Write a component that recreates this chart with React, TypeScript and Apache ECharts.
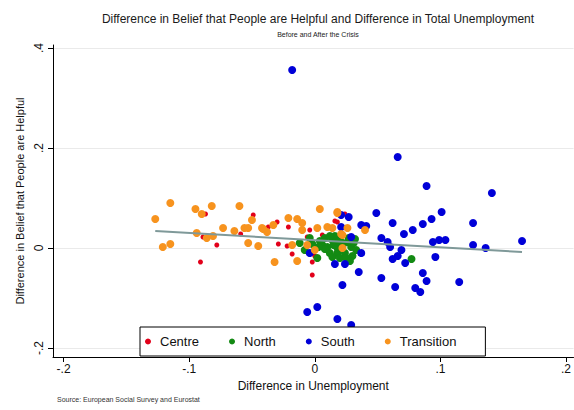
import React, { useEffect, useRef } from "react";
import * as echarts from "echarts";

const seriesNames = ["Centre", "North", "South", "Transition"];
const seriesColors = ["#e2001a", "#138a13", "#0000d8", "#f7931e"];

const centreData: number[][] = [
  [-0.087, 0.068], [-0.049, 0.066], [-0.030, 0.052], [-0.059, 0.028], [-0.078, 0.006],
  [-0.091, -0.028], [-0.029, 0.008], [-0.022, 0.004], [-0.018, -0.012], [-0.002, -0.028],
  [-0.002, -0.054], [-0.004, 0.036], [0.006, 0.026], [-0.021, 0.060], [-0.021, 0.042],
  [-0.037, 0.042], [-0.006, 0.022], [0.016, 0.054], [0.024, 0.068], [0.018, 0.022],
  [0.000, -0.016], [0.018, 0.052], [-0.089, 0.022],
];

const northData: number[][] = [
  [-0.012, 0.010], [-0.004, 0.020], [0.006, 0.006], [0.002, -0.020], [0.014, 0.016],
  [0.018, 0.000], [0.024, -0.010], [0.026, 0.012], [0.029, 0.002], [0.010, 0.002],
  [0.012, -0.010], [0.021, 0.012], [0.018, -0.010], [0.077, -0.022], [-0.008, -0.004],
  [0.008, 0.020], [0.016, 0.024], [0.020, -0.020], [0.004, 0.014], [0.027, 0.020],
  [0.031, 0.010], [0.033, -0.004], [0.030, -0.016], [0.015, 0.006], [0.008, -0.002],
  [0.022, 0.004], [0.025, -0.020], [0.012, 0.024], [0.003, 0.002], [0.032, 0.018],
  [0.019, 0.014], [0.014, -0.018], [-0.002, 0.008], [0.028, -0.026],
];

const southData: number[][] = [
  [-0.018, 0.356], [0.066, 0.182], [0.089, 0.124], [0.141, 0.110], [0.049, 0.070],
  [0.062, 0.050], [0.037, 0.046], [0.041, 0.044], [0.086, 0.048], [0.093, 0.058],
  [0.101, 0.072], [0.078, 0.036], [0.071, 0.028], [0.053, 0.020], [0.058, 0.012],
  [0.060, 0.002], [0.069, -0.004], [0.066, -0.016], [0.062, -0.022], [0.072, -0.030],
  [0.096, -0.018], [0.094, 0.012], [0.099, 0.016], [0.104, 0.016], [0.126, 0.050],
  [0.126, 0.006], [0.136, 0.000], [0.165, 0.014], [0.037, -0.010], [0.016, -0.032],
  [0.024, -0.032], [0.035, -0.048], [0.022, -0.074], [0.053, -0.060], [0.064, -0.078],
  [0.080, -0.080], [0.084, -0.088], [0.086, -0.050], [0.089, -0.066], [0.115, -0.068],
  [-0.006, -0.128], [0.002, -0.118], [0.018, -0.142], [0.029, -0.154], [0.027, 0.062],
  [0.029, 0.022], [0.021, 0.066], [-0.004, -0.010], [0.021, 0.042],
];

const transitionData: number[][] = [
  [-0.115, 0.090], [-0.127, 0.058], [-0.095, 0.078], [-0.090, 0.068], [-0.082, 0.084],
  [-0.060, 0.084], [-0.094, 0.030], [-0.086, 0.020], [-0.081, 0.024], [-0.073, 0.040],
  [-0.064, 0.034], [-0.056, 0.040], [-0.121, 0.002], [-0.115, 0.008], [-0.053, 0.010],
  [-0.050, 0.056], [-0.045, 0.004], [-0.041, 0.038], [-0.038, 0.032], [-0.033, 0.046],
  [-0.032, -0.028], [-0.021, 0.060], [-0.014, -0.026], [-0.014, 0.058], [-0.010, 0.050],
  [-0.010, 0.036], [-0.018, 0.006], [0.004, 0.078], [0.018, 0.072], [0.002, 0.040],
  [0.010, 0.042], [-0.053, 0.040], [-0.042, 0.040], [-0.006, 0.006], [0.000, -0.004],
  [0.022, 0.000], [0.014, 0.040], [0.021, 0.028], [0.026, 0.040], [0.040, 0.036],
  [0.022, 0.026], [0.018, 0.070],
];

const fitLine: number[][] = [[-0.127, 0.034], [0.165, -0.008]];

const xTicks = [-0.2, -0.1, 0, 0.1, 0.2];
const xTickLabels = ["-.2", "-.1", "0", ".1", ".2"];
const yTicks = [-0.2, 0, 0.2, 0.4];
const yTickLabels = ["-.2", "0", ".2", ".4"];

const titleText = "Difference in Belief that People are Helpful and Difference in Total Unemployment";
const subtitleText = "Before and After the Crisis";
const sourceText = "Source: European Social Survey and Eurostat";
const xName = "Difference in Unemployment";
const yName = "Difference in Belief that People are Helpful";

const FONT = "Liberation Sans, Arial, sans-serif";

function labelFor(ticks: number[], labels: string[], v: number): string {
  for (let i = 0; i < ticks.length; i++) {
    if (Math.abs(ticks[i] - v) < 1e-6) return labels[i];
  }
  return "";
}

export default function App() {
  const ref = useRef<HTMLDivElement>(null);
  useEffect(() => {
    if (!ref.current) return;
    const chart = echarts.init(ref.current, null, { renderer: "svg" });
    const datasets = [centreData, northData, southData, transitionData];
    const sizes = [5, 8, 8, 8];
    const scatterSeries = seriesNames.map((name, i) => ({
      name,
      type: "scatter",
      data: datasets[i],
      symbol: "circle",
      symbolSize: sizes[i],
      itemStyle: { color: seriesColors[i], opacity: 1 },
      z: 3 + i,
      silent: true,
    }));
    chart.setOption({
      animation: false,
      backgroundColor: "#ffffff",
      textStyle: { fontFamily: FONT },
      title: [
        {
          text: titleText,
          left: 313,
          top: 8,
          textAlign: "center",
          textStyle: { fontSize: 12, fontWeight: "normal", color: "#1a1a1a", fontFamily: FONT },
        },
        {
          text: subtitleText,
          left: 313,
          top: 26,
          textAlign: "center",
          textStyle: { fontSize: 7, fontWeight: "normal", color: "#222", fontFamily: FONT },
        },
      ],
      graphic: [
        {
          type: "text",
          left: 57,
          top: 396,
          silent: true,
          style: { text: sourceText, fontSize: 7, fill: "#333333", fontFamily: FONT },
        },
      ],
      legend: {
        data: seriesNames,
        left: 140,
        top: 327,
        orient: "horizontal",
        icon: "circle",
        itemWidth: 6,
        itemHeight: 6,
        itemGap: 30,
        padding: [8, 29, 8, 5],
        backgroundColor: "#ffffff",
        borderColor: "#000000",
        borderWidth: 1,
        borderRadius: 0,
        textStyle: { fontSize: 13, color: "#111", fontFamily: FONT, padding: [0, 0, 0, 4] },
        selectedMode: false,
        z: 10,
      },
      grid: { left: 53, right: 0, top: 45, bottom: 53, containLabel: false },
      xAxis: {
        type: "value",
        min: -0.2084,
        max: 0.206,
        name: xName,
        nameLocation: "middle",
        nameGap: 20,
        nameTextStyle: { fontSize: 12, color: "#111", fontFamily: FONT },
        axisLine: { show: true, onZero: false, lineStyle: { color: "#000", width: 1 } },
        axisTick: { show: true, length: 5, lineStyle: { color: "#000" }, customValues: xTicks },
        axisLabel: {
          show: true,
          fontSize: 12,
          color: "#111",
          margin: 6,
          customValues: xTicks,
          formatter: (v: number) => labelFor(xTicks, xTickLabels, v),
        },
        splitLine: { show: false },
      },
      yAxis: {
        type: "value",
        min: -0.218,
        max: 0.406,
        name: yName,
        nameLocation: "middle",
        nameRotate: 90,
        nameGap: 26,
        nameTextStyle: { fontSize: 11, color: "#111", fontFamily: FONT },
        axisLine: { show: true, onZero: false, lineStyle: { color: "#000", width: 1 } },
        axisTick: { show: true, length: 5, lineStyle: { color: "#000" }, customValues: yTicks },
        axisLabel: {
          show: true,
          fontSize: 12,
          color: "#111",
          rotate: 90,
          margin: 8,
          customValues: yTicks,
          formatter: (v: number) => labelFor(yTicks, yTickLabels, v),
        },
        splitLine: { show: true, lineStyle: { color: "#eaeaea", width: 1 } },
      },
      series: [
        ...scatterSeries,
        {
          name: "Fit",
          type: "line",
          data: fitLine,
          symbol: "none",
          lineStyle: { color: "#7f9999", width: 2 },
          z: 8,
          silent: true,
        },
      ],
    });
    return () => chart.dispose();
  }, []);
  return <div ref={ref} style={{ width: 574, height: 410, position: "absolute", left: 0, top: 0 }} />;
}
